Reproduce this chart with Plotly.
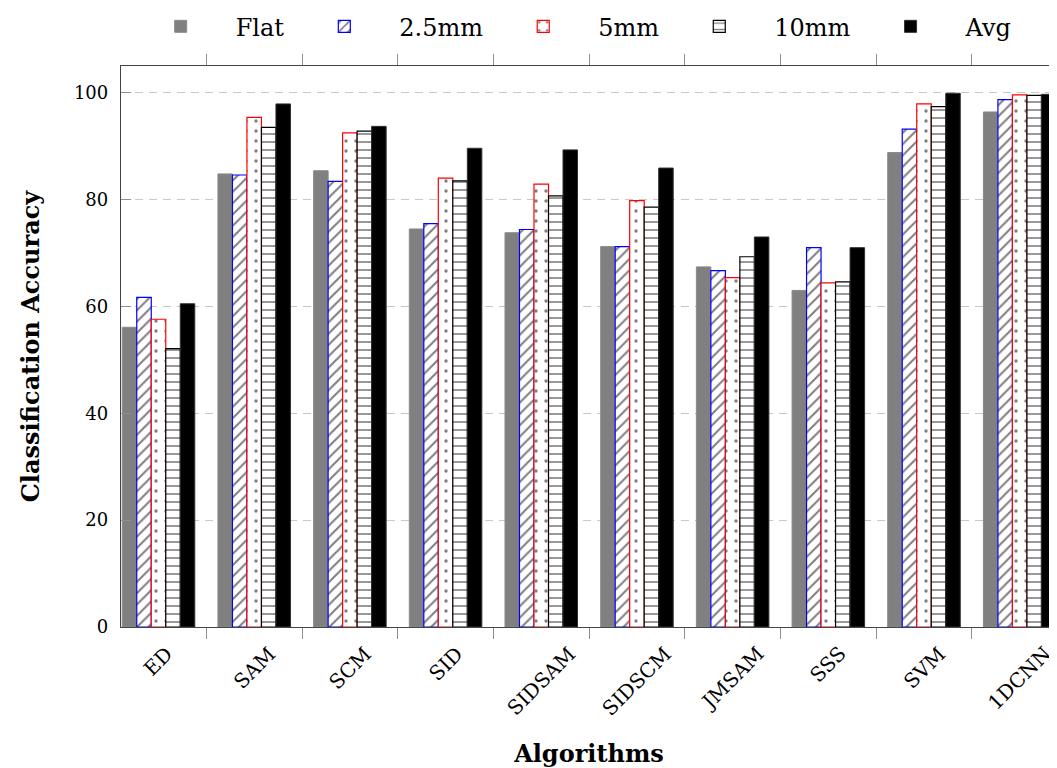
import plotly.graph_objects as go

algorithms = ["ED", "SAM", "SCM", "SID", "SIDSAM", "SIDSCM", "JMSAM", "SSS", "SVM", "1DCNN"]
flat = [56.1, 84.8, 85.4, 74.5, 73.8, 71.2, 67.4, 63.0, 88.8, 96.4]
mm25 = [61.7, 84.6, 83.4, 75.5, 74.4, 71.2, 66.7, 71.0, 93.2, 98.7]
mm5 = [57.6, 95.4, 92.5, 84.0, 82.9, 79.8, 65.4, 64.4, 97.9, 99.6]
mm10 = [52.1, 93.5, 92.8, 83.5, 80.7, 78.6, 69.3, 64.6, 97.4, 99.5]
avg = [60.5, 97.9, 93.7, 89.6, 89.3, 85.9, 73.0, 71.0, 99.9, 99.7]
series_names = ["Flat", "2.5mm", "5mm", "10mm", "Avg"]
y_ticks = [0, 20, 40, 60, 80, 100]

FONT = "DejaVu Serif"

styles = [
    dict(color="#808080", line=dict(color="#8a8a8a", width=1)),
    dict(color="white", line=dict(color="blue", width=1.2),
         pattern=dict(shape="/", fgcolor="black", bgcolor="white", size=8, solidity=0.26)),
    dict(color="white", line=dict(color="red", width=1.2),
         pattern=dict(shape=".", fgcolor="black", bgcolor="white", size=10, solidity=0.09)),
    dict(color="white", line=dict(color="black", width=1.2),
         pattern=dict(shape="-", fgcolor="black", bgcolor="white", size=8, solidity=0.2)),
    dict(color="black", line=dict(color="#303030", width=1)),
]

fig = go.Figure()
for name, vals, st in zip(series_names, [flat, mm25, mm5, mm10, avg], styles):
    fig.add_trace(go.Bar(x=algorithms, y=vals, name=name, marker=st))

# category labels, rotated 45 degrees and centred under each group
for alg in algorithms:
    fig.add_annotation(x=alg, xref="x", y=0, yref="paper", yshift=-12,
                       text=alg, textangle=-45, showarrow=False,
                       xanchor="center", yanchor="top",
                       font=dict(family=FONT, size=20, color="black"))

fig.update_layout(
    width=1049, height=760,
    margin=dict(l=113, r=0, t=58, b=141, autoexpand=False),
    paper_bgcolor="white", plot_bgcolor="white",
    barmode="group", bargap=0.242, bargroupgap=0,
    font=dict(family=FONT, color="black", size=18),
    showlegend=True,
    legend=dict(orientation="h", x=0.005, xanchor="left", y=1.07, yanchor="middle",
                font=dict(family=FONT, size=24),
                itemwidth=100, bgcolor="rgba(0,0,0,0)", traceorder="normal"),
    xaxis=dict(
        type="category", range=[-0.392, 9.39],
        tickson="boundaries", ticks="outside", ticklen=11, tickcolor="#909090", tickwidth=1,
        showline=True, linecolor="#444444", linewidth=1.3, mirror="ticks",
        showticklabels=False,
        showgrid=False,
        title=dict(text="<b>Algorithms</b>", font=dict(family=FONT, size=24), standoff=118),
    ),
    yaxis=dict(
        range=[0, 105], tickvals=y_ticks,
        ticks="inside", ticklen=10, tickcolor="#909090", tickwidth=1,
        showline=True, linecolor="#444444", linewidth=1.3, mirror=False,
        showgrid=True, gridcolor="#c8c8c8", gridwidth=1, griddash="8px,6px",
        zeroline=False, tickfont=dict(family=FONT, size=18), ticklabelstandoff=8,
        title=dict(text="<b>Classification Accuracy</b>", font=dict(family=FONT, size=24), standoff=27),
    ),
)

fig.write_html("out.html")
